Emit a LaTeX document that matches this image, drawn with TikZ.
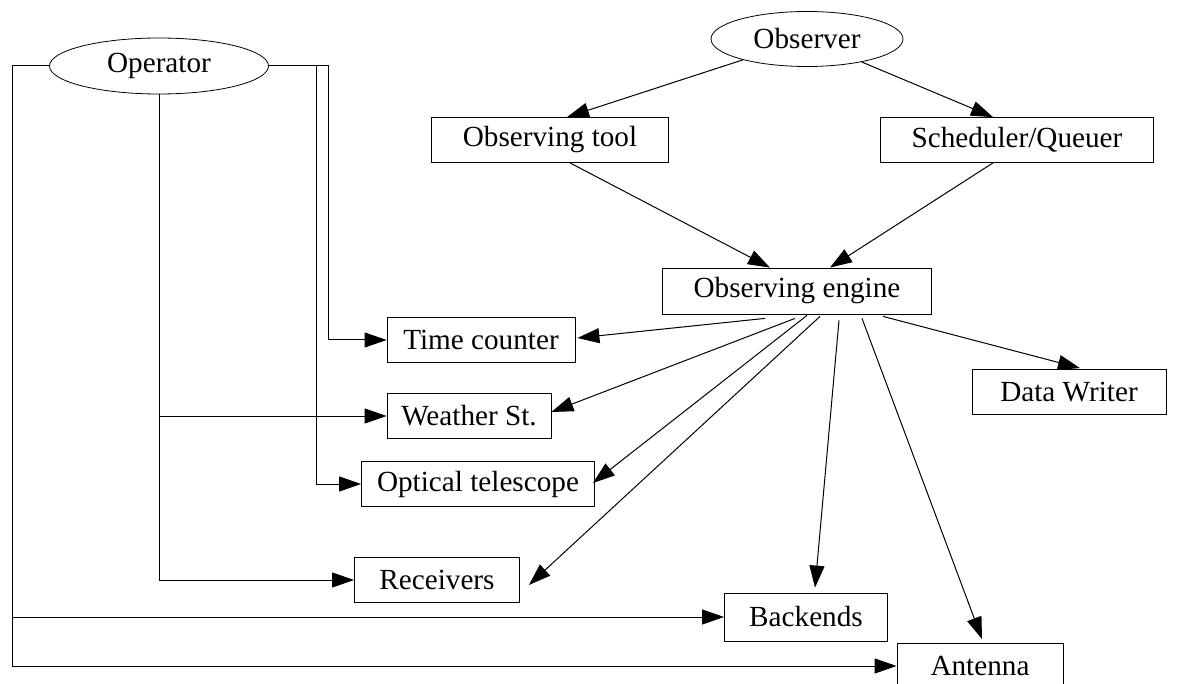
\documentclass[tikz,border=0pt]{standalone}
\usepackage{fontspec}
\setmainfont{Liberation Serif}
\usetikzlibrary{arrows.meta,
	calc,
	shapes}

\begin{document}
\begin{tikzpicture}[x=0.5pt,y=-0.5pt,>={Triangle[length=11pt,width=7.5pt]}]
    \tikzstyle{box}=[draw,rectangle,minimum height=22.5pt,inner sep=0pt,font=\fontsize{14.6}{17}\selectfont]
    \tikzstyle{actor}=[draw,ellipse,inner sep=0pt,font=\fontsize{14.6}{17}\selectfont]
    \tikzstyle{link}=[->,line width=0.5pt]
    \useasboundingbox (0,0) rectangle (1184,684);
    \clip (0,0) rectangle (1184,684);
    % actors
    \node[actor,minimum width=96pt,minimum height=27.5pt] (obs) at (807,39) {Observer};
    \node[actor,minimum width=109.5pt,minimum height=28pt] (op) at (159,66) {Operator};
    % software
    \node[box,minimum width=118.5pt] (otl) at (550,140) {Observing tool};
    \node[box,minimum width=136.5pt] (sq) at (1017,140) {Scheduler/Queuer};
    \node[box,minimum width=134.5pt,minimum height=23pt] (eng) at (797,291) {Observing engine};
    \node[box,minimum width=97pt] (dw) at (1069,392) {Data Writer};
    % hardware
    \node[box,minimum width=94pt] (tc) at (481,340) {Time counter};
    \node[box,minimum width=82pt] (ws) at (469,416) {Weather St.};
    \node[box,minimum width=116.5pt] (optl) at (478,484) {Optical telescope};
    \node[box,minimum width=82.5pt] (rc) at (437,580) {Receivers};
    \node[box,minimum width=81.5pt,minimum height=24pt] (be) at (806,617) {Backends};
    \node[box,minimum width=83pt] (an) at (980,666) {Antenna};
    % observer side
    \draw[link] (obs) -- ($(otl.north)+(17,0)$);
    \draw[link] (obs) -- ($(sq.north)+(-24,0)$);
    \draw[link] ($(otl.south)+(20,0)$) -- ($(eng.north)+(-27,0)$);
    \draw[link] ($(sq.south)+(-24,0)$) -- ($(eng.north)+(33,0)$);
    % engine fan out
    \draw[link] ($(eng.south)+(-32,4)$) -- ($(tc.east)+(2,-2)$);
    \draw[link] ($(eng.south)+(-2,4)$) -- ($(ws.east)+(0,-4)$);
    \draw[link] ($(eng.south)+(10,1)$) -- ($(optl.east)+(-2,-1)$);
    \draw[link] ($(eng.south)+(23,2)$) -- ($(rc.east)+(9,5)$);
    \draw[link] ($(eng.south)+(42,6)$) -- ($(be.north)+(9,-5)$);
    \draw[link] ($(eng.south)+(65,4)$) -- ($(an.north)+(2,-4)$);
    \draw[link] ($(eng.south)+(86,2)$) -- ($(dw.north)+(11,-1)$);
    % operator side
    \draw[link] (op.west) -- ++(-37,0) |- (an.west);
    \draw[link] (op.west) -- ++(-37,0) |- (be.west);
    \draw[link] (op.south) |- (ws.west);
    \draw[link] (op.south) |- (rc.west);
    \draw[link] (op.east) -- ++(60,0) |- (tc.west);
    \draw[link] (op.east) -- ++(48,0) |- (optl.west);
  \end{tikzpicture}
\end{document}
